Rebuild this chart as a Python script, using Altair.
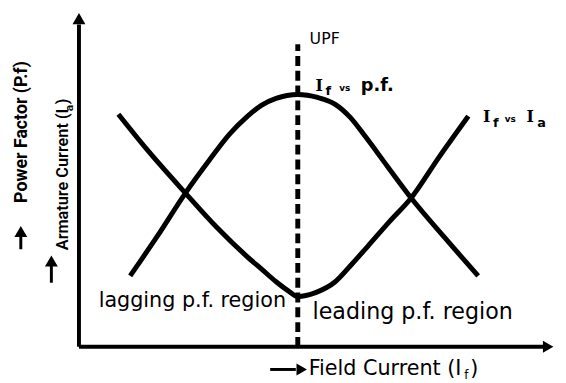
import altair as alt
import pandas as pd

# Curve values (field current vs power factor / armature current), units relative to axis origin
pf_x = [52, 80, 108, 132, 153, 170, 185, 200, 222, 242, 260, 275, 290, 313, 337, 370, 405]
pf_y = [72, 113, 156, 189, 216, 233, 245, 252, 256, 253, 246, 233, 214, 183, 151, 112, 72]
ia_x = [40, 70, 108, 140, 170, 185, 200, 212, 222, 240, 260, 277, 293, 315, 337, 365, 395]
ia_y = [236, 199, 156, 121, 92, 79, 66, 57, 51, 55, 66, 84, 102, 127, 151, 192, 234]
upf_x = 222
upf_top = 307

curves = pd.DataFrame(
    {"x": pf_x + ia_x, "y": pf_y + ia_y, "series": ["pf"] * len(pf_x) + ["ia"] * len(ia_x)}
)

OX, OY = 80, 349  # origin of the drawn axes inside the page


def P(px, py):
    return px - OX, OY - py


xs = alt.Scale(domain=[-72, 486])
ys = alt.Scale(domain=[-34, 341])
X = lambda: alt.X("x:Q", scale=xs, axis=None)
Y = lambda: alt.Y("y:Q", scale=ys, axis=None)


def pts(rows):
    return pd.DataFrame([P(*r) for r in rows], columns=["x", "y"])


def segs(rows):
    out = []
    for a, b, c, d in rows:
        x1, y1 = P(a, b)
        x2, y2 = P(c, d)
        out.append([x1, y1, x2, y2])
    return pd.DataFrame(out, columns=["x", "y", "x2", "y2"])


lines = alt.Chart(curves).mark_line(color="black", strokeWidth=5, interpolate="monotone").encode(
    x=X(), y=Y(), detail="series:N"
)

axes = alt.Chart(segs([[80, 349, 80, 22], [80, 349, 552, 349]])).mark_rule(
    color="black", strokeWidth=4
).encode(x=X(), y=Y(), x2="x2:Q", y2="y2:Q")
heads_up = alt.Chart(pts([[80, 16], [21, 232], [52, 262]])).mark_point(
    shape="triangle-up", filled=True, color="black", size=170, opacity=1
).encode(x=X(), y=Y())
heads_right = alt.Chart(pts([[556, 349], [306, 372]])).mark_point(
    shape="triangle-right", filled=True, color="black", size=150, opacity=1
).encode(x=X(), y=Y())
small_shafts = alt.Chart(
    segs([[21, 236, 21, 250], [52, 266, 52, 284], [274, 372, 300, 372]])
).mark_rule(color="black", strokeWidth=3).encode(x=X(), y=Y(), x2="x2:Q", y2="y2:Q")

upf = alt.Chart(pd.DataFrame({"x": [upf_x], "y": [0], "y2": [upf_top]})).mark_rule(
    color="black", strokeWidth=5, strokeDash=[10, 5]
).encode(x=X(), y=Y(), y2="y2:Q")


def txt(rows, size, font="DejaVu Sans", weight="normal", align="left", angle=0, baseline="middle"):
    df = pd.DataFrame([[t, *P(a, b)] for t, a, b in rows], columns=["t", "x", "y"])
    return alt.Chart(df).mark_text(
        font=font, fontSize=size, fontWeight=weight, align=align, baseline=baseline,
        angle=angle, color="black"
    ).encode(x=X(), y=Y(), text="t:N")


NARROW = "Liberation Sans Narrow, Roboto, sans-serif"

t_upf = txt([["UPF", 314, 37]], 16)
t_lag = txt([["lagging p.f. region", 100, 309]], 21, baseline="alphabetic")
t_lead = txt([["leading p.f. region", 317, 321]], 22.5, baseline="alphabetic")
t_field = txt([["Field Current (I", 313, 378], [")", 477, 378]], 21, baseline="alphabetic")
t_field_sub = txt([["f", 471, 382]], 12, baseline="alphabetic")
t_curve_I = txt([["I", 320, 84], ["I", 490, 116], ["I", 534, 116]], 16, font="DejaVu Serif", weight="bold")
t_curve_sub = txt([["f", 330, 90], ["f", 500, 122], ["a", 545, 122]], 13, weight="bold")
t_vs = txt([["vs", 344, 86], ["vs", 512, 118]], 9, weight="bold")
t_pf = txt([["p.f.", 366, 84]], 18, weight="bold")
t_ylab1 = txt([["Power Factor (P.f)", 22, 131]], 18, font=NARROW, weight="bold", align="center", angle=270)
t_ylab2 = txt([["Armature Current (I", 64, 251]], 16.5, font=NARROW, weight=600, align="left", angle=270)
t_ylab2b = txt([["a", 70, 110]], 12, font=NARROW, weight=600, align="left", angle=270)
t_ylab2c = txt([[")", 64, 103]], 16.5, font=NARROW, weight=600, align="left", angle=270)

chart = alt.layer(
    lines, axes, heads_up, heads_right, small_shafts, upf,
    t_upf, t_lag, t_lead, t_field, t_field_sub, t_curve_I, t_curve_sub, t_vs, t_pf,
    t_ylab1, t_ylab2, t_ylab2b, t_ylab2c
).properties(
    width=558, height=375, autosize=alt.AutoSizeParams(type="none"), padding=0
).configure_view(stroke=None)

chart.save("out.html", embed_options={"renderer": "svg", "actions": False})
